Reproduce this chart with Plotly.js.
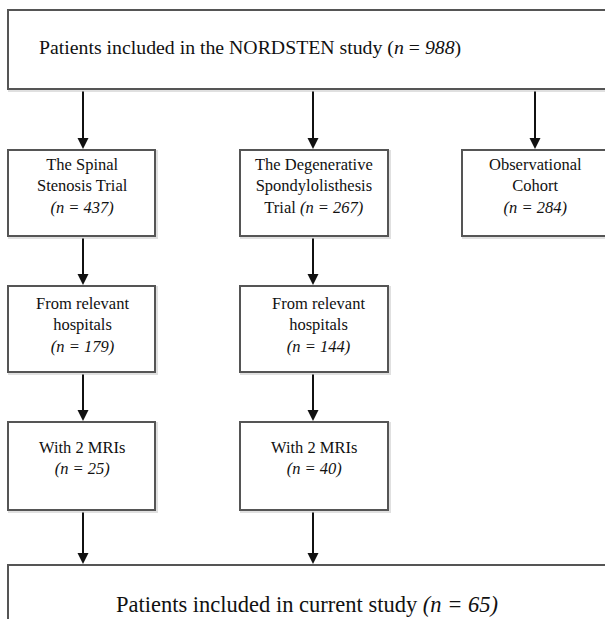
<!DOCTYPE html>
<html><head><meta charset="utf-8">
<script src="https://cdn.plot.ly/plotly-3.0.1.min.js"></script>
<style>html,body{margin:0;padding:0;background:#fff;overflow:hidden}</style>
</head><body><div id="chart" style="width:605px;height:619px"></div>
<script>
// ---- data ----
const nodeLabels = [
  "Patients included in the NORDSTEN study",
  "The Spinal<br>Stenosis Trial",
  "The Degenerative<br>Spondylolisthesis<br>Trial",
  "Observational<br>Cohort",
  "From relevant<br>hospitals",
  "From relevant<br>hospitals",
  "With 2 MRIs",
  "With 2 MRIs",
  "Patients included in current study"
];
const nodeCounts = [988, 437, 267, 284, 179, 144, 25, 40, 65];
const edgeFrom = [0, 0, 0, 1, 2, 4, 5, 6, 7];
const edgeTo   = [1, 2, 3, 4, 5, 6, 7, 8, 8];

// ---- geometry (layout only) ----
const boxX0 = [8, 8, 240, 462, 8, 240, 8, 240, 8];
const boxX1 = [615, 155, 388, 615, 155, 388, 155, 388, 615];
const boxY0 = [10, 150, 150, 150, 286, 286, 422, 422, 565];
const boxY1 = [89, 236, 236, 236, 372, 372, 510, 510, 640];
const textX = [37, 82, 314, 535, 82, 318, 82, 314, 307];
const textY = [47, 186, 186, 186, 325, 325, 458, 458, 604];
const textAnchor = ["left","center","center","center","center","center","center","center","center"];
const textSize = [19.8, 16.5, 16.5, 16.5, 16.5, 16.5, 16.5, 16.5, 22.5];
const countSep = [" ", "<br>", " ", "<br>", "<br>", "<br>", "<br>", "<br>", " "];
const edgeX = [83, 313, 535, 83, 313, 83, 313, 83, 313];

function countText(i) {
  if (i === 0) return "(<i>n</i> = <i>" + nodeCounts[i] + "</i>)";
  return "<i>(n = " + nodeCounts[i] + ")</i>";
}

const shapes = [];
const annotations = [];
const font = "Liberation Serif, Times New Roman, serif";

for (let i = 0; i < nodeLabels.length; i++) {
  shapes.push({type: "rect", xref: "x", yref: "y",
    x0: boxX0[i] + 1.5, x1: boxX1[i] + 1.5, y0: boxY0[i] + 1.5, y1: boxY1[i] + 1.5,
    line: {color: "rgba(0,0,0,0.12)", width: 3}, fillcolor: "rgba(0,0,0,0)", layer: "below"});
  shapes.push({type: "rect", xref: "x", yref: "y",
    x0: boxX0[i], x1: boxX1[i], y0: boxY0[i], y1: boxY1[i],
    line: {color: "#555555", width: 2}, fillcolor: "#ffffff"});
  annotations.push({xref: "x", yref: "y", x: textX[i], y: textY[i],
    text: nodeLabels[i] + countSep[i] + countText(i), showarrow: false,
    xanchor: textAnchor[i], yanchor: "middle", align: "center",
    font: {family: font, size: textSize[i], color: "#111"}});
}

for (let k = 0; k < edgeFrom.length; k++) {
  const a = edgeFrom[k], b = edgeTo[k];
  annotations.push({xref: "x", yref: "y", axref: "x", ayref: "y",
    x: edgeX[k], y: boxY0[b] - 1, ax: edgeX[k], ay: boxY1[a] + 1,
    text: "", showarrow: true, arrowhead: 2, arrowsize: 1.1, arrowwidth: 2,
    arrowcolor: "#111", standoff: 0, startstandoff: 0});
}

const layout = {
  width: 605, height: 619,
  margin: {l: 0, r: 0, t: 0, b: 0},
  paper_bgcolor: "#fff", plot_bgcolor: "#fff",
  xaxis: {range: [0, 605], visible: false, fixedrange: true},
  yaxis: {range: [619, 0], visible: false, fixedrange: true},
  showlegend: false,
  shapes: shapes,
  annotations: annotations
};

Plotly.newPlot("chart", [], layout, {displayModeBar: false, staticPlot: true});
</script>
</body></html>
